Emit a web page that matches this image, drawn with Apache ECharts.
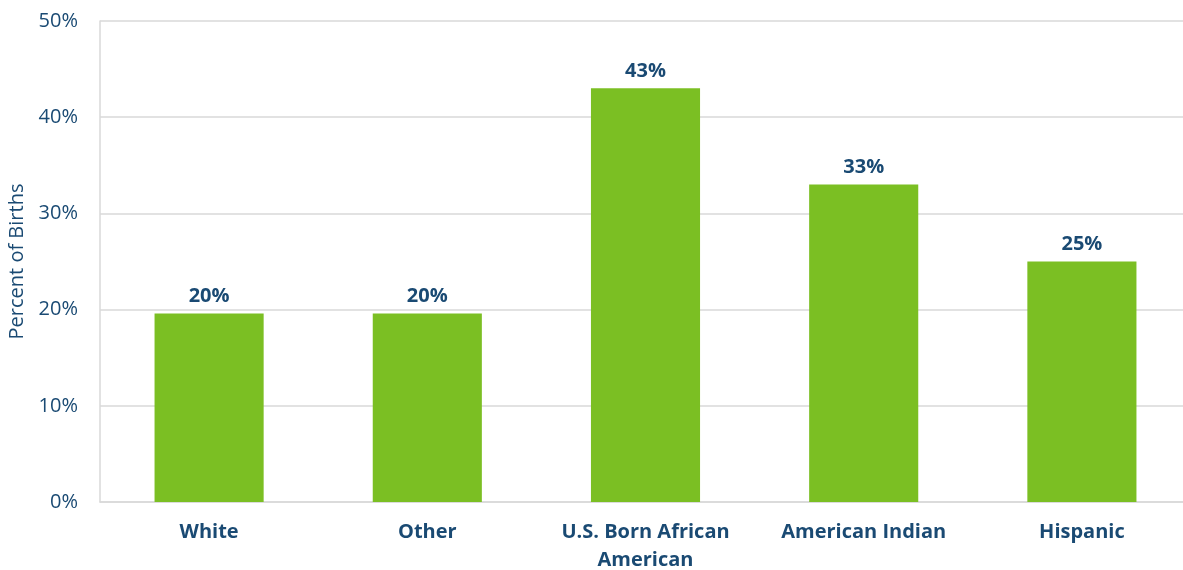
<!DOCTYPE html>
<html>
<head>
<meta charset="utf-8">
<script src="https://cdn.jsdelivr.net/npm/echarts@6/dist/echarts.min.js"></script>
<style>html,body{margin:0;padding:0;background:#fff}#c{width:1183px;height:570px}</style>
</head>
<body>
<div id="c"></div>
<script>
const categories = ["White", "Other", "U.S. Born African\nAmerican", "American Indian", "Hispanic"];
const values = [19.6, 19.6, 43.0, 33.0, 25.0];
const yTicks = [0, 10, 20, 30, 40, 50];

const textColor = "#1a4a73";
const font = "'Open Sans', sans-serif";
const chart = echarts.init(document.getElementById('c'));
chart.setOption({
  animation: false,
  grid: { left: 100, right: -8, top: 21, bottom: 68, containLabel: false, outerBoundsMode: 'none' },
  xAxis: {
    type: 'category',
    data: categories,
    axisTick: { show: false },
    axisLine: { lineStyle: { color: '#d9d9d9', width: 1.5 } },
    axisLabel: { color: textColor, fontFamily: font, fontWeight: 'bold', fontSize: 20, margin: 16, lineHeight: 28, interval: 0, hideOverlap: false }
  },
  yAxis: {
    type: 'value',
    min: yTicks[0], max: yTicks[yTicks.length - 1], interval: 10,
    name: 'Percent of Births',
    nameLocation: 'middle',
    nameGap: 65,
    nameTextStyle: { color: textColor, fontFamily: font, fontSize: 20 },
    axisLine: { show: true, lineStyle: { color: '#d9d9d9', width: 1.5 } },
    axisTick: { show: false },
    splitLine: { lineStyle: { color: '#d9d9d9', width: 1.5 } },
    axisLabel: { color: textColor, fontFamily: font, fontSize: 20, margin: 22, formatter: v => v + '%' }
  },
  series: [{
    type: 'bar',
    data: values,
    barWidth: '50%',
    itemStyle: { color: '#7bbf23' },
    label: {
      show: true, position: 'top', distance: 7,
      color: textColor, fontFamily: font, fontWeight: 'bold', fontSize: 20,
      formatter: p => Math.round(p.value) + '%'
    }
  }]
});
</script>
</body>
</html>
